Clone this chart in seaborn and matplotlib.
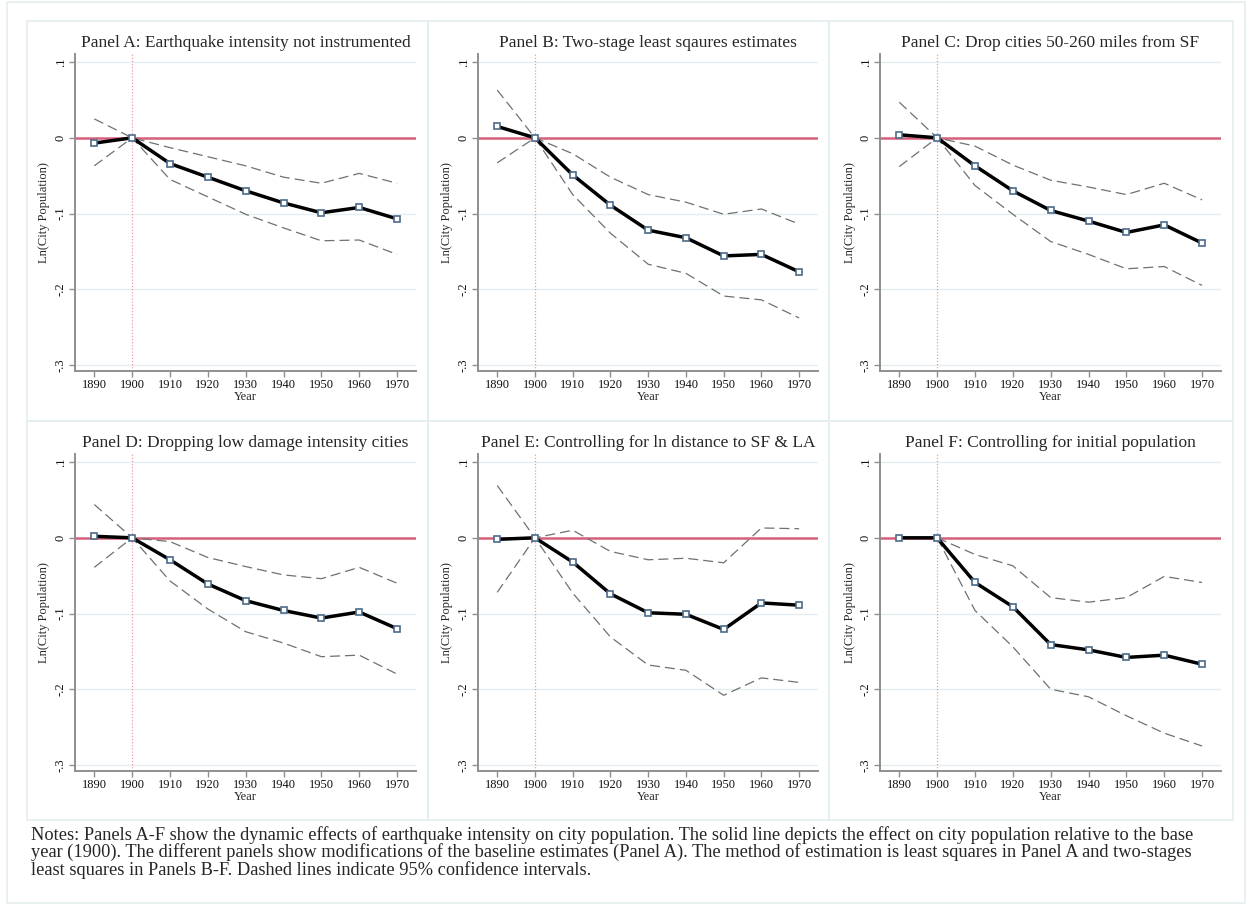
import numpy as np
import pandas as pd
import matplotlib
matplotlib.use("Agg")
import matplotlib.pyplot as plt
from matplotlib.patches import Rectangle
import seaborn as sns

YEARS = [1890, 1900, 1910, 1920, 1930, 1940, 1950, 1960, 1970]

TITLES = [
    "Panel A: Earthquake intensity not instrumented",
    "Panel B: Two-stage least sqaures estimates",
    "Panel C: Drop cities 50-260 miles from SF",
    "Panel D: Dropping low damage intensity cities",
    "Panel E: Controlling for ln distance to SF & LA",
    "Panel F: Controlling for initial population",
]

# point estimates and 95% bounds
A_EST = [-0.007, 0.0, -0.034, -0.052, -0.070, -0.086, -0.099, -0.092, -0.107]
A_HI  = [0.025, 0.0, -0.013, -0.025, -0.037, -0.052, -0.060, -0.047, -0.060]
A_LO  = [-0.037, 0.0, -0.055, -0.078, -0.101, -0.119, -0.136, -0.135, -0.154]

B_EST = [0.015, 0.0, -0.049, -0.089, -0.122, -0.132, -0.156, -0.154, -0.177]
B_HI  = [0.063, 0.0, -0.021, -0.052, -0.075, -0.085, -0.101, -0.094, -0.114]
B_LO  = [-0.033, 0.0, -0.075, -0.126, -0.167, -0.179, -0.209, -0.214, -0.238]

C_EST = [0.004, 0.0, -0.037, -0.070, -0.096, -0.110, -0.125, -0.115, -0.139]
C_HI  = [0.047, 0.0, -0.011, -0.036, -0.056, -0.065, -0.075, -0.060, -0.082]
C_LO  = [-0.038, 0.0, -0.063, -0.101, -0.137, -0.154, -0.173, -0.170, -0.195]

D_EST = [0.002, 0.0, -0.029, -0.061, -0.083, -0.096, -0.106, -0.098, -0.120]
D_HI  = [0.044, 0.0, -0.005, -0.026, -0.038, -0.049, -0.054, -0.039, -0.060]
D_LO  = [-0.039, 0.0, -0.057, -0.094, -0.124, -0.139, -0.157, -0.155, -0.180]

E_EST = [-0.002, 0.0, -0.032, -0.074, -0.099, -0.101, -0.121, -0.086, -0.089]
E_HI  = [0.069, 0.0, 0.010, -0.018, -0.029, -0.027, -0.033, 0.013, 0.012]
E_LO  = [-0.072, 0.0, -0.073, -0.131, -0.168, -0.175, -0.208, -0.185, -0.191]

F_EST = [0.0, 0.0, -0.059, -0.091, -0.141, -0.148, -0.158, -0.155, -0.167]
F_HI  = [np.nan, 0.0, -0.022, -0.037, -0.079, -0.085, -0.079, -0.051, -0.059]
F_LO  = [np.nan, 0.0, -0.096, -0.144, -0.200, -0.210, -0.235, -0.258, -0.275]

PANELS = [(A_EST, A_HI, A_LO), (B_EST, B_HI, B_LO), (C_EST, C_HI, C_LO),
          (D_EST, D_HI, D_LO), (E_EST, E_HI, E_LO), (F_EST, F_HI, F_LO)]

Y_TICKS = [-0.3, -0.2, -0.1, 0.0, 0.1]
Y_TICKLABELS = ["-.3", "-.2", "-.1", "0", ".1"]

NOTES = ("Notes: Panels A-F show the dynamic effects of earthquake intensity on city population. "
         "The solid line depicts the effect on city population relative to the base\n"
         "year (1900). The different panels show modifications of the baseline estimates (Panel A). "
         "The method of estimation is least squares in Panel A and two-stages\n"
         "least squares in Panels B-F. Dashed lines indicate 95% confidence intervals.")

W, H = 1251, 906
sns.set_style("white")
plt.rcParams["font.family"] = ["Liberation Serif", "DejaVu Serif"]

fig = plt.figure(figsize=(W / 100, H / 100), dpi=100)
fig.patch.set_facecolor("white")

BORDER = "#e4eef0"
# outer frame and panel cells
fig.add_artist(Rectangle((7 / W, 1 - 903 / H), 1238 / W, 901 / H, transform=fig.transFigure,
                         fill=False, ec=BORDER, lw=1.2))
cell_x = [27, 428, 829, 1233]
cell_y = [21, 421, 820]
for r in range(2):
    for c in range(3):
        fig.add_artist(Rectangle((cell_x[c] / W, 1 - cell_y[r + 1] / H),
                                 (cell_x[c + 1] - cell_x[c]) / W,
                                 (cell_y[r + 1] - cell_y[r]) / H,
                                 transform=fig.transFigure, fill=False, ec=BORDER, lw=1.2))

col_left = [75, 478, 880]
col_right = [416, 818, 1221]
row_top = [54, 454]
row_bot = [371, 771]

for i, (est, hi, lo) in enumerate(PANELS):
    r, c = divmod(i, 3)
    ax = fig.add_axes([col_left[c] / W, 1 - row_bot[r] / H,
                       (col_right[c] - col_left[c]) / W, (row_bot[r] - row_top[r]) / H])
    ax.set_facecolor("white")

    df = pd.DataFrame({"year": YEARS, "est": est, "hi": hi, "lo": lo})

    ax.axhline(0, color="#d8607c", lw=1.8, zorder=1)
    ax.axvline(1900, color="#eb9aab", lw=0.9, ls=(0, (1, 1.5)), zorder=1)

    for col in ["hi", "lo"]:
        sub = df.dropna(subset=[col])
        sns.lineplot(data=sub, x="year", y=col, ax=ax, color="#707070", lw=0.9,
                     linestyle=(0, (8, 4)), zorder=2)
    sns.lineplot(data=df, x="year", y="est", ax=ax, color="black", lw=2.5,
                 marker="s", markersize=5, markerfacecolor="white",
                 markeredgecolor="#4d6b8a", markeredgewidth=1.2, zorder=3)

    ax.set_xlim(1884.9, 1975.0)
    ax.set_ylim(-0.308, 0.1107)
    ax.set_xticks(YEARS)
    ax.set_xticklabels([str(y) for y in YEARS], fontsize=9)
    ax.set_yticks(Y_TICKS)
    ax.set_yticklabels(Y_TICKLABELS, fontsize=9)
    for lbl in ax.get_yticklabels():
        lbl.set_rotation(90)
        lbl.set_va("center")

    ax.yaxis.grid(True, color="#e3edf0", lw=1.0)
    ax.xaxis.grid(False)
    ax.set_axisbelow(True)

    sns.despine(ax=ax)
    for s in ["left", "bottom"]:
        ax.spines[s].set_color("#8f8f8f")
        ax.spines[s].set_linewidth(1.4)
    ax.tick_params(axis="both", which="major", length=4, width=1, color="#8f8f8f",
                   pad=2, labelcolor="#111111", bottom=True, left=True)

    ax.set_xlabel("Year", fontsize=9, labelpad=0)
    ax.set_ylabel("Ln(City Population)", fontsize=9, labelpad=3)
    ax.set_title(TITLES[i], fontsize=12.5, pad=5)

fig.text(31 / W, 1 - 826 / H, NOTES, ha="left", va="top", fontsize=13.2, linespacing=0.97)

fig.savefig("out.png", dpi=100, facecolor="white")
